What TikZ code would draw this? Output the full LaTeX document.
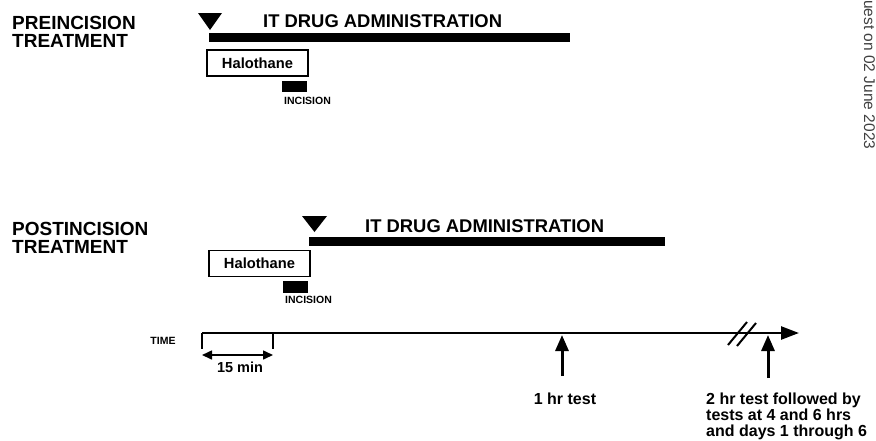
\documentclass[tikz,border=0pt]{standalone}
\usepackage{fontspec}
\setmainfont{Liberation Sans}
\usetikzlibrary{arrows.meta, positioning}
\tikzstyle{heading} = [font=\fontsize{19}{17.5}\selectfont\bfseries, inner sep=0pt, anchor=north west, align=left]
\tikzstyle{drug} = [font=\fontsize{18.4}{20}\selectfont\bfseries, inner sep=0pt, anchor=base west]
\tikzstyle{drugbar} = [rectangle, fill=black, minimum height=8.5pt, inner sep=0pt, anchor=north west]
\tikzstyle{halo} = [rectangle, draw=black, line width=1.1pt, minimum width=101pt, minimum height=26pt, inner sep=0pt, font=\fontsize{14.7}{16}\selectfont\bfseries]
\tikzstyle{incis} = [rectangle, fill=black, minimum width=25pt, minimum height=11.5pt, inner sep=0pt]
\tikzstyle{tinylbl} = [font=\fontsize{10.5}{12}\selectfont\bfseries, inner sep=0pt]
\tikzstyle{lbl} = [font=\fontsize{16}{16}\selectfont\bfseries, inner sep=0pt]
\tikzstyle{timeline} = [line width=2.5pt, -{Triangle[length=18pt,width=13pt]}]
\tikzstyle{timetick} = [line width=2.5pt]
\tikzstyle{span} = [line width=1.6pt, {Triangle[length=10pt,width=9pt]}-{Triangle[length=10pt,width=9pt]}]
\tikzstyle{arrow} = [line width=3pt, -{Triangle[length=16pt,width=13pt]}]

\begin{document}
\begin{tikzpicture}[x=1pt, y=-1pt]
	\useasboundingbox (0,0) rectangle (876,440);
	% preincision
	\node (pre) [heading] at (12,16.5) {PREINCISION\\TREATMENT};
	\fill (198,13) -- (222,13) -- (210,30) -- cycle;
	\node (predrug) [drug] at (263,27) {IT DRUG ADMINISTRATION};
	\node (prebar) [drugbar, minimum width=361pt] at (209,33) {};
	\node (prehalo) [halo] at (257.5,63) {Halothane};
	\node (preinc) [incis] at (294.5,86.5) {};
	\node (preinctxt) [tinylbl, anchor=base west] at (284,104) {INCISION};
	
	% postincision
	\node (post) [heading] at (12,222.5) {POSTINCISION\\TREATMENT};
	\fill (302,216) -- (327,216) -- (314.5,232) -- cycle;
	\node (postdrug) [drug] at (365,232) {IT DRUG ADMINISTRATION};
	\node (postbar) [drugbar, minimum width=356pt] at (309,237) {};
	\node (posthalo) [halo] at (259.5,263.5) {Halothane};
	\node (postinc) [incis] at (295.5,287) {};
	\node (postinctxt) [tinylbl, anchor=base west] at (285,303) {INCISION};
	
	% time axis
	\node (time) [tinylbl] at (163,341) {TIME};
	\coordinate (t0) at (202,333);
	\coordinate (t15) at (273,333);
	\coordinate (tend) at (799,333);
	\coordinate (t0low) at (202,349);
	\coordinate (t15low) at (273,349);
	\coordinate (s0) at (202,355);
	\coordinate (s15) at (273,355);
	\draw [timeline] (t0) -- (tend);
	\draw [timetick] (t0) -- (t0low);
	\draw [timetick] (t15) -- (t15low);
	\draw [span] (s0) -- (s15);
	\node (min) [lbl, font=\fontsize{14.5}{16}\selectfont\bfseries, anchor=base] at (240,372) {15 min};
	\draw [line width=2pt] (728,345) -- (747,322);
	\draw [line width=2pt] (737,346) -- (756,323);
	
	\coordinate (h1) at (562,335);
	\coordinate (h1base) at (562,376);
	\coordinate (h2) at (768,335);
	\coordinate (h2base) at (768,378);
	\draw [arrow] (h1base) -- (h1);
	\draw [arrow] (h2base) -- (h2);
	\node (onehr) [lbl, anchor=base] at (565,404) {1 hr test};
	\node (twohr) [lbl, anchor=north west, align=left] at (706,393) {2 hr test followed by\\tests at 4 and 6 hrs\\and days 1 through 6};
	
	\node (stamp) [font=\fontsize{15.5}{16}\selectfont, text=black!75, rotate=-90, anchor=base west, inner sep=0pt] at (864,0) {uest on 02 June 2023};
\end{tikzpicture}
\end{document}
